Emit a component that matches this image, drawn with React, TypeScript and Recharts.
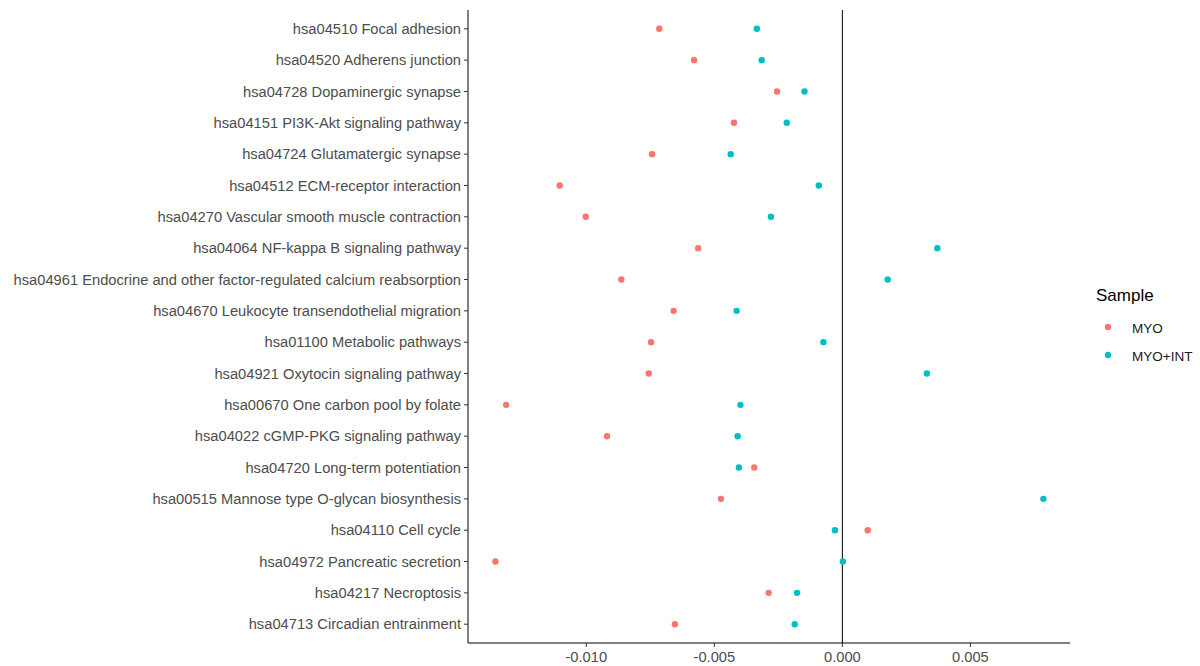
import React from "react";
import {
  ScatterChart,
  Scatter,
  XAxis,
  YAxis,
  ReferenceLine,
  Legend,
} from "recharts";

// Pathways, listed top to bottom
const pathways: string[] = [
  "hsa04510 Focal adhesion",
  "hsa04520 Adherens junction",
  "hsa04728 Dopaminergic synapse",
  "hsa04151 PI3K-Akt signaling pathway",
  "hsa04724 Glutamatergic synapse",
  "hsa04512 ECM-receptor interaction",
  "hsa04270 Vascular smooth muscle contraction",
  "hsa04064 NF-kappa B signaling pathway",
  "hsa04961 Endocrine and other factor-regulated calcium reabsorption",
  "hsa04670 Leukocyte transendothelial migration",
  "hsa01100 Metabolic pathways",
  "hsa04921 Oxytocin signaling pathway",
  "hsa00670 One carbon pool by folate",
  "hsa04022 cGMP-PKG signaling pathway",
  "hsa04720 Long-term potentiation",
  "hsa00515 Mannose type O-glycan biosynthesis",
  "hsa04110 Cell cycle",
  "hsa04972 Pancreatic secretion",
  "hsa04217 Necroptosis",
  "hsa04713 Circadian entrainment",
];

const myoValues: number[] = [
  -0.00715, -0.00579, -0.00255, -0.00423, -0.00743, -0.01104, -0.01002,
  -0.00563, -0.00863, -0.00659, -0.00747, -0.00756, -0.01313, -0.00919,
  -0.00344, -0.00474, 0.00099, -0.01355, -0.00288, -0.00654,
];

const myoIntValues: number[] = [
  -0.00334, -0.00315, -0.00148, -0.00217, -0.00436, -0.00092, -0.00279,
  0.00371, 0.00177, -0.00413, -0.00074, 0.0033, -0.00398, -0.00409,
  -0.00404, 0.00785, -0.00029, 0.00002, -0.00177, -0.00186,
];

const xTicks: number[] = [-0.01, -0.005, 0, 0.005];

const seriesNames = ["MYO", "MYO+INT"];
const seriesColors = ["#F8766D", "#00BFC4"];

const myoData = myoValues.map((x, i) => ({ x, y: i, name: pathways[i] }));
const myoIntData = myoIntValues.map((x, i) => ({ x, y: i, name: pathways[i] }));

const FONT = "'Liberation Sans', Arial, sans-serif";

const dot = (color: string) => (props: any) => (
  <circle cx={props.cx} cy={props.cy} r={3.2} fill={color} />
);

const SampleLegend = () => (
  <div style={{ fontFamily: FONT, color: "#000" }}>
    <div style={{ fontSize: 17, lineHeight: "20px", marginBottom: 8 }}>Sample</div>
    {seriesNames.map((n, i) => (
      <div
        key={n}
        style={{ display: "flex", alignItems: "center", height: 28, fontSize: 13.5 }}
      >
        <svg width={30} height={28}>
          <circle cx={12} cy={13} r={3.2} fill={seriesColors[i]} />
        </svg>
        <span style={{ marginLeft: 6, color: "#1a1a1a" }}>{n}</span>
      </div>
    ))}
  </div>
);

export default function App() {
  return (
    <div
      style={{
        position: "absolute",
        top: 0,
        left: 0,
        width: 1200,
        height: 666,
        background: "#fff",
      }}
    >
      <ScatterChart
        width={1200}
        height={666}
        margin={{ top: 10, right: 130, bottom: 0, left: 0 }}
      >
        <XAxis
          type="number"
          dataKey="x"
          domain={[-0.01462, 0.00889]}
          ticks={xTicks}
          tickFormatter={(v: number) => v.toFixed(3)}
          allowDataOverflow
          height={23}
          stroke="#000"
          tickLine={{ stroke: "#333" }}
          tickSize={4}
          tickMargin={5}
          tick={{ fill: "#4D4D4D", fontSize: 14.7, fontFamily: FONT }}
        />
        <YAxis
          type="number"
          dataKey="y"
          domain={[-0.6, 19.6]}
          reversed
          ticks={pathways.map((_, i) => i)}
          interval={0}
          tickFormatter={(v: number) => pathways[v] ?? ""}
          allowDataOverflow
          width={468}
          stroke="#000"
          tickLine={{ stroke: "#333" }}
          tickSize={4}
          tickMargin={3}
          tick={{ fill: "#4D4D4D", fontSize: 14.7, fontFamily: FONT }}
        />
        <ReferenceLine x={0} stroke="#000" strokeWidth={1} />
        <Legend
          layout="horizontal"
          align="center"
          verticalAlign="middle"
          wrapperStyle={{ left: 1096, top: 286, width: 104 }}
          content={() => <SampleLegend />}
        />
        <Scatter
          name={seriesNames[0]}
          data={myoData}
          fill={seriesColors[0]}
          shape={dot(seriesColors[0])}
          isAnimationActive={false}
        />
        <Scatter
          name={seriesNames[1]}
          data={myoIntData}
          fill={seriesColors[1]}
          shape={dot(seriesColors[1])}
          isAnimationActive={false}
        />
      </ScatterChart>
    </div>
  );
}
